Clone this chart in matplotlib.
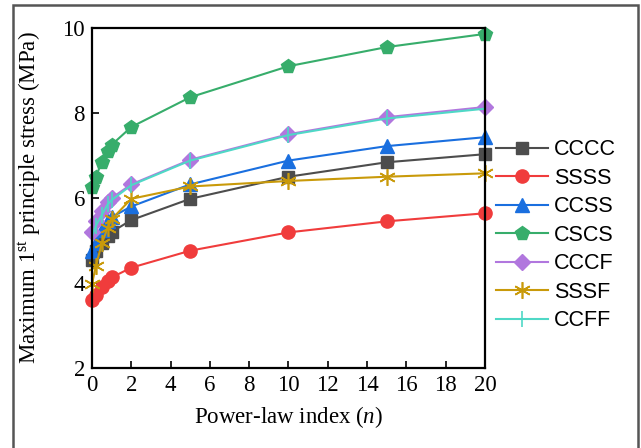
import matplotlib
matplotlib.use('Agg')
import matplotlib.pyplot as plt
from matplotlib.patches import Rectangle

# power-law index values and stress results (MPa)
n_vals = [0, 0.2, 0.5, 0.8, 1, 2, 5, 10, 15, 20]
cccc = [4.55, 4.75, 4.95, 5.1, 5.2, 5.48, 5.98, 6.5, 6.84, 7.03]
ssss = [3.6, 3.72, 3.9, 4.05, 4.13, 4.36, 4.76, 5.19, 5.45, 5.64]
ccss = [4.75, 4.95, 5.25, 5.45, 5.55, 5.8, 6.32, 6.88, 7.22, 7.43]
cscs = [6.25, 6.5, 6.85, 7.1, 7.25, 7.67, 8.37, 9.1, 9.55, 9.86]
cccf = [5.2, 5.45, 5.7, 5.9, 6.0, 6.32, 6.9, 7.5, 7.9, 8.14]
sssf = [3.98, 4.4, 4.93, 5.3, 5.5, 5.98, 6.27, 6.4, 6.5, 6.58]
ccff = [5.1, 5.35, 5.6, 5.85, 5.95, 6.3, 6.88, 7.48, 7.87, 8.1]

labels = ['CCCC', 'SSSS', 'CCSS', 'CSCS', 'CCCF', 'SSSF', 'CCFF']
series = [cccc, ssss, ccss, cscs, cccf, sssf, ccff]
colors = ['#4d4d4d', '#f03c3c', '#1a6fdf', '#37ad6b', '#b177de', '#c99a0a', '#4fd8c6']
markers = ['s', 'o', '^', 'p', 'D', (6, 2, 0), '|']
msizes = [8.5, 9.5, 9.5, 10, 8.5, 12, 11]

plt.rcParams['font.family'] = ['Liberation Serif', 'DejaVu Serif']
plt.rcParams['mathtext.fontset'] = 'custom'
plt.rcParams['mathtext.rm'] = 'Liberation Serif'
plt.rcParams['mathtext.it'] = 'Liberation Serif:italic'

fig = plt.figure(figsize=(6.41, 4.48), dpi=100)
ax = fig.add_axes([0.1435, 0.1786, 0.6131, 0.759])

for y, lab, c, m, ms in zip(series, labels, colors, markers, msizes):
    mew = 1.2 if m in ['|', (6, 2, 0)] else 1
    ax.plot(n_vals, y, color=c, marker=m, markersize=ms, linewidth=1.5,
            markeredgewidth=mew, label=lab, clip_on=False)

ax.set_xlim(0, 20)
ax.set_ylim(2, 10)
ax.set_xticks(range(0, 21, 2))
ax.set_yticks([2, 4, 6, 8, 10])
ax.tick_params(direction='in', length=5, width=1.2, labelsize=16.5, top=False, right=False, pad=5)
for s in ax.spines.values():
    s.set_linewidth(1.6)
ax.set_xlabel('Power-law index ($n$)', fontsize=16.5, labelpad=6)
ax.set_ylabel('Maximum 1$^{\\mathrm{st}}$ principle stress (MPa)', fontsize=16.5, labelpad=14)

leg = ax.legend(loc='center left', bbox_to_anchor=(0.99, 0.39), frameon=False,
                borderaxespad=0.3,
                prop={'family': 'Liberation Sans', 'size': 15.5},
                handlelength=2.4, handletextpad=0.3, labelspacing=0.35)

# outer frame around the figure
fig.patches.append(Rectangle((13 / 641, -0.1), (638 - 13) / 641, 1.1 - 5 / 448,
                             transform=fig.transFigure, fill=False,
                             edgecolor='#555555', linewidth=1.8))

fig.savefig('out.png', dpi=100)
